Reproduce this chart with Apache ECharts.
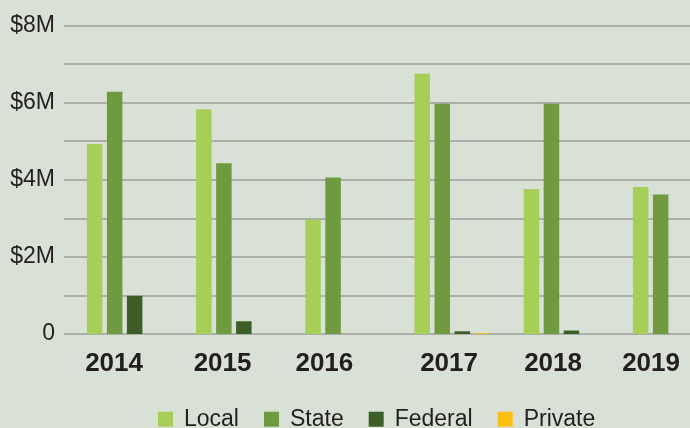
<!DOCTYPE html>
<html>
<head>
<meta charset="utf-8">
<script src="https://cdn.jsdelivr.net/npm/echarts@6/dist/echarts.min.js"></script>
<style>
  html, body { margin: 0; padding: 0; background: #d9e0d5; }
  #chart { width: 690px; height: 428px; }
</style>
</head>
<body>
<div id="chart"></div>
<script>
// ---- Data ----
const years = ['2014', '2015', '2016', '2017', '2018', '2019'];
const seriesNames = ['Local', 'State', 'Federal', 'Private'];
const localVals   = [4930000, 5830000, 2960000, 6750000, 3760000, 3810000];
const stateVals   = [6280000, 4430000, 4060000, 5970000, 5970000, 3620000];
const federalVals = [990000, 330000, null, 70000, 90000, null];
const privateVals = [null, null, null, 25000, null, null];
const yTicks = [0, 2000000, 4000000, 6000000, 8000000];
const yTickLabels = ['0', '$2M', '$4M', '$6M', '$8M'];

// ---- Styles ----
const colors = ['#a5cf57', '#6f9a3f', '#3c5e28', '#fdbf14'];
const textColor = '#231f20';
const gridColor = '#9c9e9a';
const labelShift = [-10.6, -11.3, -18.7, -3.2, -8.4, -19.6]; // per-label horizontal nudge (px)

const rich = {};
labelShift.forEach((s, i) => {
  rich['l' + i] = {
    fontFamily: 'Liberation Sans, Arial, sans-serif',
    fontWeight: 'bold',
    fontSize: 26,
    lineHeight: 26,
    color: textColor,
    padding: [0, Math.max(0, -2 * s), 0, Math.max(0, 2 * s)]
  };
});

const dataSets = [localVals, stateVals, federalVals, privateVals];

const chart = echarts.init(document.getElementById('chart'), null, { renderer: 'canvas' });
chart.setOption({
  backgroundColor: '#d9e0d5',
  animation: false,
  grid: [
    { left: 64, right: 0, top: 25.5, bottom: 94, outerBoundsMode: 'none', containLabel: false },
    { left: 124.65, right: 19.35, top: 25.5, bottom: 94, outerBoundsMode: 'none', containLabel: false }
  ],
  xAxis: [
    { type: 'category', gridIndex: 0, data: years, show: false },
    {
      type: 'category', gridIndex: 1, data: years, boundaryGap: false,
      axisLine: { show: false }, axisTick: { show: false },
      axisLabel: {
        margin: 16.5,
        interval: 0,
        formatter: (v, i) => '{l' + i + '|' + v + '}',
        rich: rich
      }
    }
  ],
  yAxis: [
    {
      type: 'value', gridIndex: 0, min: 0, max: 8000000, interval: 1000000,
      axisLine: { show: false }, axisTick: { show: false },
      splitLine: { lineStyle: { color: gridColor, width: 1.5 } },
      axisLabel: {
        margin: 9,
        fontFamily: 'Liberation Sans, Arial, sans-serif',
        fontSize: 23,
        color: textColor,
        formatter: v => {
          const idx = yTicks.indexOf(v);
          return idx >= 0 ? yTickLabels[idx] : '';
        }
      }
    },
    {
      type: 'value', gridIndex: 1, min: 0, max: 8000000, interval: 1000000, show: false,
      splitLine: { show: false }
    }
  ],
  legend: {
    data: seriesNames,
    left: 158,
    top: 407.7,
    padding: 0,
    icon: 'rect',
    itemWidth: 15,
    itemHeight: 15,
    itemGap: 25,
    textStyle: {
      fontFamily: 'Liberation Sans, Arial, sans-serif',
      fontSize: 23,
      lineHeight: 23,
      color: textColor,
      padding: [0, 0, 0, 6]
    }
  },
  series: seriesNames.map((name, k) => ({
    name: name,
    type: 'bar',
    xAxisIndex: 1,
    yAxisIndex: 1,
    data: dataSets[k],
    barWidth: 15.5,
    barGap: '29%',
    itemStyle: { color: colors[k] }
  }))
});
</script>
</body>
</html>
